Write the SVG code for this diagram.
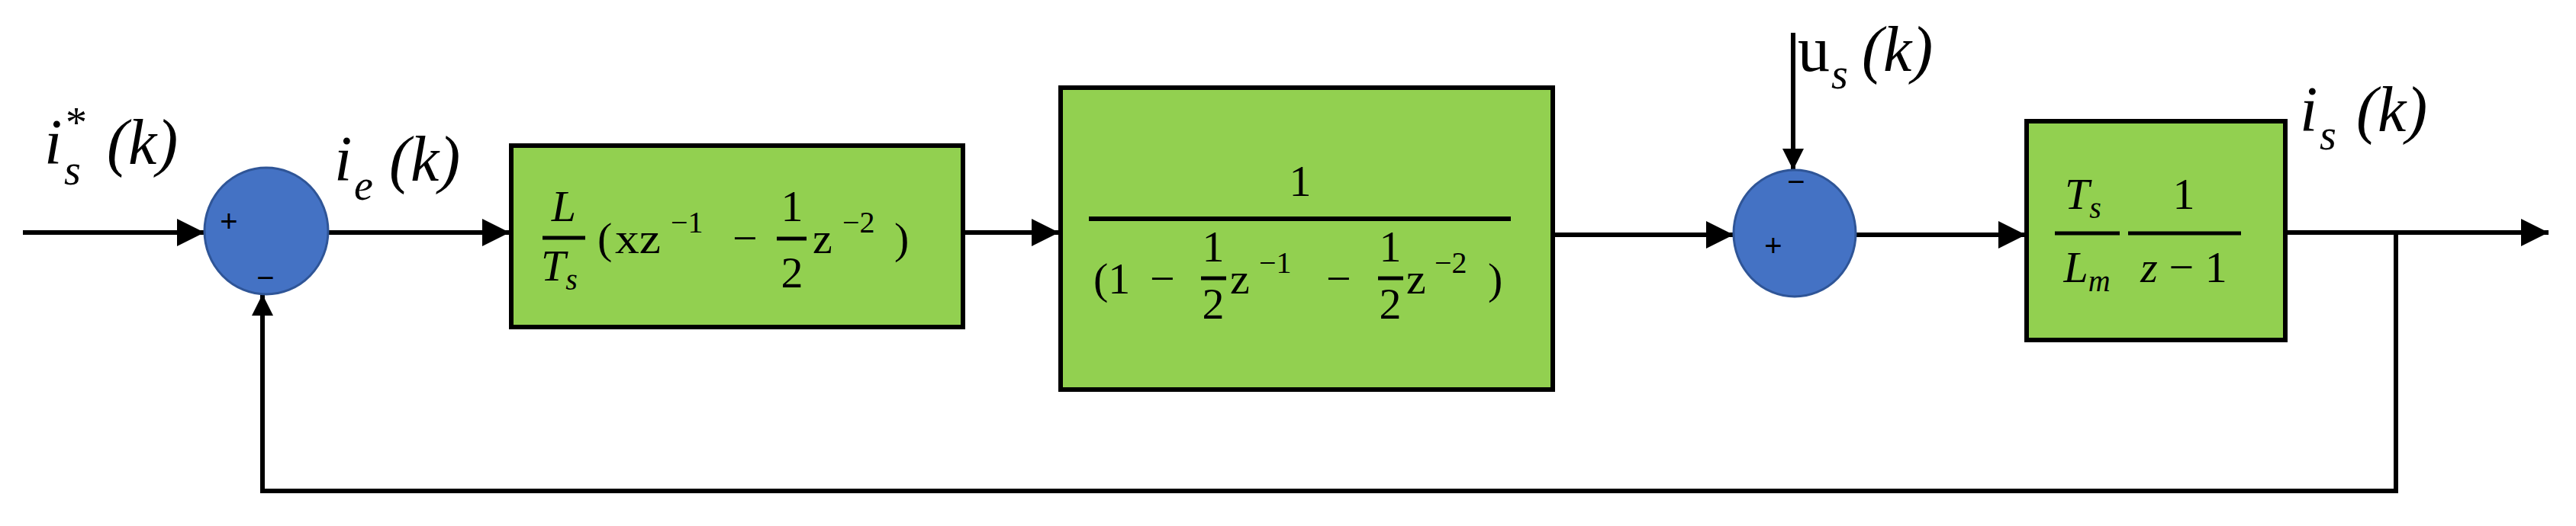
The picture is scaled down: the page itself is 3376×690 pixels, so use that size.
<svg xmlns="http://www.w3.org/2000/svg" width="3376" height="690" viewBox="0 0 3376 690">
<style>
.blk{fill:#92D050;stroke:#000;stroke-width:6}
.sum{fill:#4472C4;stroke:#2F5597;stroke-width:3}
.w{stroke:#000;stroke-width:6;fill:none}
.t{font-family:"Liberation Serif","DejaVu Serif",serif;fill:#000}
.it{font-style:italic}
.m{font-size:58px}
.s{font-size:40px}
.lb{font-size:84px}
.ls{font-size:56px}
.sg{font-family:"Liberation Sans",sans-serif;font-size:40px;fill:#000}
</style>
<defs>
<marker id="ah" markerWidth="8" markerHeight="8" refX="7" refY="4" orient="auto" markerUnits="userSpaceOnUse" viewBox="0 0 8 8"><path d="M0,0 L8,4 L0,8 z" fill="#000"/></marker>
<marker id="big" viewBox="0 0 10 10" refX="10" refY="5" markerWidth="36" markerHeight="36" markerUnits="userSpaceOnUse" orient="auto"><path d="M0,0 L10,5 L0,10 z" fill="#000"/></marker>
<marker id="med" viewBox="0 0 10 10" refX="10" refY="5" markerWidth="28" markerHeight="28" markerUnits="userSpaceOnUse" orient="auto"><path d="M0,0 L10,5 L0,10 z" fill="#000"/></marker>
</defs>
<rect width="3376" height="690" fill="#fff"/>
<g id="connectors">
<line class="w" x1="30" y1="305" x2="268" y2="305" marker-end="url(#big)"/>
<line class="w" x1="430" y1="305" x2="668" y2="305" marker-end="url(#big)"/>
<line class="w" x1="1262" y1="305" x2="1388" y2="305" marker-end="url(#big)"/>
<line class="w" x1="2035" y1="308" x2="2272" y2="308" marker-end="url(#big)"/>
<line class="w" x1="2432" y1="308" x2="2655" y2="308" marker-end="url(#big)"/>
<line class="w" x1="2995" y1="305" x2="3340" y2="305" marker-end="url(#big)"/>
<polyline class="w" stroke-width="5" points="3140,305 3140,644 344,644 344,386" marker-end="url(#med)"/>
<line class="w" stroke-width="3" x1="2350" y1="43" x2="2350" y2="223" marker-end="url(#med)"/>
</g>
<g id="sum1">
<ellipse class="sum" cx="349" cy="303" rx="81" ry="83"/>
<text class="sg" x="300" y="304" text-anchor="middle">+</text>
<text class="sg" x="348" y="378" text-anchor="middle">−</text>
</g>
<g id="block1">
<rect class="blk" x="670" y="191" width="592" height="238"/>
<text class="t it m" x="739" y="290" text-anchor="middle">L</text>
<line x1="711" y1="312" x2="767" y2="312" stroke="#000" stroke-width="5"/>
<text class="t it m" x="733" y="368" text-anchor="middle">T<tspan class="s" dy="12">s</tspan></text>
<text class="t m" x="783" y="332">(</text>
<text class="t m" x="806" y="332" textLength="60" lengthAdjust="spacingAndGlyphs">xz</text>
<text class="t s" x="879" y="305">−1</text>
<text class="t m" x="960" y="332">−</text>
<text class="t m" x="1038" y="290" text-anchor="middle">1</text>
<line x1="1018" y1="313" x2="1057" y2="313" stroke="#000" stroke-width="5"/>
<text class="t m" x="1038" y="377" text-anchor="middle">2</text>
<text class="t m" x="1065" y="332">z</text>
<text class="t s" x="1104" y="305">−2</text>
<text class="t m" x="1172" y="332">)</text>
</g>
<g id="block2">
<rect class="blk" x="1390" y="115" width="645" height="396"/>
<text class="t m" x="1704" y="257" text-anchor="middle">1</text>
<line x1="1427" y1="287" x2="1980" y2="287" stroke="#000" stroke-width="6"/>
<text class="t m" x="1433" y="385">(1</text>
<text class="t m" x="1507" y="385">−</text>
<text class="t m" x="1590" y="343" text-anchor="middle">1</text>
<line x1="1574" y1="365" x2="1607" y2="365" stroke="#000" stroke-width="5"/>
<text class="t m" x="1590" y="418" text-anchor="middle">2</text>
<text class="t m" x="1612" y="385">z</text>
<text class="t s" x="1650" y="358">−1</text>
<text class="t m" x="1738" y="385">−</text>
<text class="t m" x="1822" y="343" text-anchor="middle">1</text>
<line x1="1806" y1="365" x2="1839" y2="365" stroke="#000" stroke-width="5"/>
<text class="t m" x="1822" y="418" text-anchor="middle">2</text>
<text class="t m" x="1843" y="385">z</text>
<text class="t s" x="1880" y="358">−2</text>
<text class="t m" x="1950" y="385">)</text>
</g>
<g id="sum2">
<ellipse class="sum" cx="2352" cy="306" rx="80" ry="83"/>
<text class="sg" x="2354" y="252" text-anchor="middle">−</text>
<text class="sg" x="2324" y="336" text-anchor="middle">+</text>
</g>
<g id="block3">
<rect class="blk" x="2656" y="159" width="339" height="287"/>
<text class="t it m" x="2730" y="274" text-anchor="middle">T<tspan class="s" dy="12">s</tspan></text>
<line x1="2693" y1="306" x2="2778" y2="306" stroke="#000" stroke-width="5"/>
<text class="t it m" x="2735" y="370" text-anchor="middle">L<tspan class="s" dy="12">m</tspan></text>
<text class="t m" x="2862" y="274" text-anchor="middle">1</text>
<line x1="2789" y1="306" x2="2937" y2="306" stroke="#000" stroke-width="5"/>
<text class="t m" x="2862" y="370" text-anchor="middle"><tspan class="it">z</tspan> − 1</text>
</g>
<g id="labels">
<text class="t it lb" x="58" y="215">i</text>
<text class="t ls" x="86" y="180">*</text>
<text class="t it ls" x="84" y="242">s</text>
<text class="t it lb" x="140" y="215">(k)</text>
<text class="t it lb" x="438" y="237">i</text>
<text class="t it ls" x="464" y="262">e</text>
<text class="t it lb" x="510" y="237">(k)</text>
<text class="t lb" x="2356" y="93">u</text>
<text class="t it ls" x="2400" y="116">s</text>
<text class="t it lb" x="2440" y="93">(k)</text>
<text class="t it lb" x="3014" y="172">i</text>
<text class="t it ls" x="3040" y="196">s</text>
<text class="t it lb" x="3088" y="172">(k)</text>
</g>
</svg>
